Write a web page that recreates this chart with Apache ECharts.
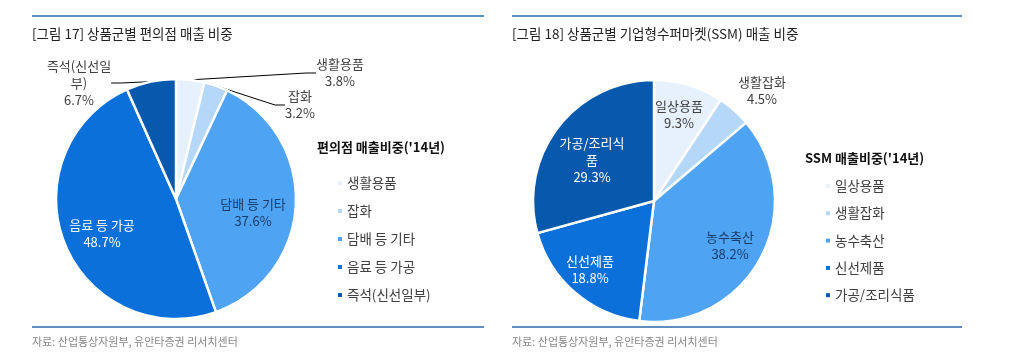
<!DOCTYPE html>
<html>
	<head>
		<meta charset="utf-8">
		<title>상품군별 매출 비중</title>
		<script src="https://cdn.jsdelivr.net/npm/echarts@6.0.0/dist/echarts.min.js"></script>
		<style>
			html, body { margin: 0; padding: 0; background: #fff; }
			#main { width: 1024px; height: 353px; }
		</style>
	</head>
	<body>
		<div id="main"></div>
		<script type="text/javascript">
			// 데이터
			var cvsNames = ['생활용품', '잡화', '담배 등 기타', '음료 등 가공', '즉석(신선일부)'];
			var cvsLabels = ['생활용품', '잡화', '담배 등 기타', '음료 등 가공', '즉석(신선일\n부)'];
			var cvsValues = [3.8, 3.2, 37.6, 48.7, 6.7];

			var ssmNames = ['일상용품', '생활잡화', '농수축산', '신선제품', '가공/조리식품'];
			var ssmLabels = ['일상용품', '생활잡화', '농수축산', '신선제품', '가공/조리식\n품'];
			var ssmValues = [9.3, 4.5, 38.2, 18.8, 29.3];

			var sliceColors = ['#e6f1fd', '#b5d8f8', '#4ea4f2', '#0b70d9', '#0759ae'];
			var labelColors = ['#404040', '#404040', '#1b3c6a', '#ffffff', '#ffffff'];

			// 라벨 위치 (텍스트 중심)
			var cvsLabelPos = [[340, 73], [300, 105], [253, 213], [102, 234], [79, 83]];
			var cvsOutside = [true, true, false, false, true];
			var ssmLabelPos = [[679, 115], [762, 91], [730, 246], [590, 270], [592, 160]];
			var ssmOutside = [false, true, false, false, false];
			var ssmLine = [false, false, false, false, false];

			var FONT = '"Noto Sans CJK KR", "Noto Sans", sans-serif';

			function buildData(names, labels, values, outside, line) {
				return names.map(function (n, i) {
					return {
						name: n,
						value: values[i],
						itemStyle: { color: sliceColors[i] },
						label: {
							position: outside[i] ? 'outside' : 'inside',
							formatter: labels[i] + '\n{c}%',
							color: outside[i] ? '#404040' : labelColors[i]
						},
						labelLine: { show: line ? line[i] : outside[i] }
					};
				});
			}

			function pieSeries(name, center, radius, data, pos) {
				return {
					name: name,
					type: 'pie',
					center: center,
					radius: radius,
					startAngle: 90,
					clockwise: true,
					avoidLabelOverlap: false,
					data: data,
					itemStyle: { borderColor: '#fff', borderWidth: 2.5 },
					label: {
						fontFamily: FONT,
						fontSize: 13,
						lineHeight: 17,
						align: 'center'
					},
					labelLine: {
						length: 10,
						length2: 10,
						lineStyle: { color: '#000', width: 1 }
					},
					labelLayout: function (p) {
						var xy = pos[p.dataIndex];
						return { x: xy[0], y: xy[1], align: 'center', verticalAlign: 'middle' };
					},
					emphasis: { disabled: true }
				};
			}

			var chart = echarts.init(document.getElementById('main'));

			var lineColor = '#2b68ad';
			var legendBase = {
				orient: 'vertical',
				icon: 'rect', itemWidth: 4, itemHeight: 4,
				selectedMode: false,
				itemStyle: { borderWidth: 0 },
				textStyle: { fontFamily: FONT, fontSize: 13.5, lineHeight: 14, color: '#404040' }
			};
			var titleStyle = { fontFamily: FONT, fontSize: 13.5, fontWeight: 'normal', color: '#222' };
			var subStyle = { fontFamily: FONT, fontSize: 13, fontWeight: 'bold', color: '#111' };
			var srcStyle = { fontFamily: FONT, fontSize: 11, fontWeight: 'normal', color: '#888' };
			var option = {
				animation: false,
				title: [
					{ text: '[그림 17] 상품군별 편의점 매출 비중', left: 27, top: 22, textStyle: titleStyle },
					{ text: '[그림 18] 상품군별 기업형수퍼마켓(SSM) 매출 비중', left: 507, top: 22, textStyle: titleStyle },
					{ text: "편의점 매출비중('14년)", left: 312, top: 136, textStyle: subStyle },
					{ text: "SSM 매출비중('14년)", left: 800, top: 147, textStyle: subStyle },
					{ text: '자료: 산업통상자원부, 유안타증권 리서치센터', left: 27, top: 331, textStyle: srcStyle },
					{ text: '자료: 산업통상자원부, 유안타증권 리서치센터', left: 507, top: 331, textStyle: srcStyle }
				],
				legend: [
					Object.assign({ data: cvsNames, left: 333, top: 171, itemGap: 14 }, legendBase),
					Object.assign({ data: ssmNames, left: 821, top: 174, itemGap: 13.3 }, legendBase)
				],
				graphic: [
					{ type: 'line', shape: { x1: 32, y1: 16, x2: 484, y2: 16 }, style: { stroke: lineColor, lineWidth: 1.5 } },
					{ type: 'line', shape: { x1: 32, y1: 327, x2: 484, y2: 327 }, style: { stroke: lineColor, lineWidth: 1.5 } },
					{ type: 'line', shape: { x1: 512, y1: 16, x2: 962, y2: 16 }, style: { stroke: lineColor, lineWidth: 1.5 } },
					{ type: 'line', shape: { x1: 512, y1: 327, x2: 962, y2: 327 }, style: { stroke: lineColor, lineWidth: 1.5 } }
				],
				series: [
					pieSeries('편의점', [176, 199], 120, buildData(cvsNames, cvsLabels, cvsValues, cvsOutside), cvsLabelPos),
					pieSeries('SSM', [654, 201], 121, buildData(ssmNames, ssmLabels, ssmValues, ssmOutside, ssmLine), ssmLabelPos)
				]
			};

			chart.setOption(option);
		</script>
	</body>
</html>
